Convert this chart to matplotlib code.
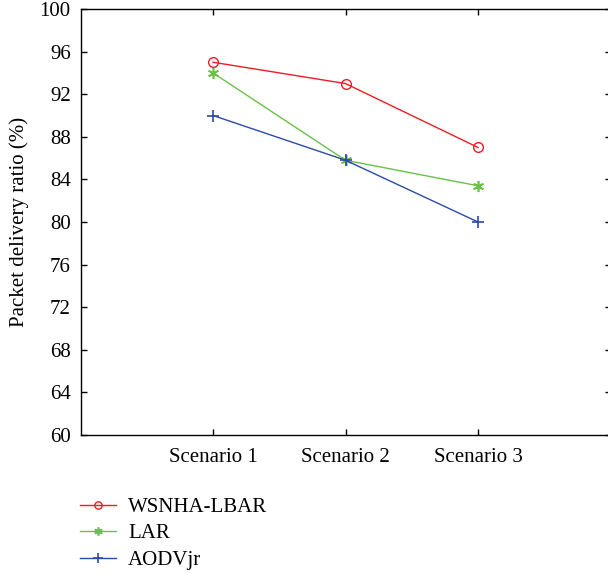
import numpy as np
import matplotlib.pyplot as plt

# data
scenarios = ['Scenario 1', 'Scenario 2', 'Scenario 3']
wsnha_lbar = [95.0, 93.0, 87.0]
lar = [94.0, 85.8, 83.4]
aodvjr = [90.0, 85.8, 80.0]

plt.rcParams['font.family'] = ['Liberation Serif', 'DejaVu Serif']
plt.rcParams['font.size'] = 15

W, H = 608, 573
fig = plt.figure(figsize=(W / 100, H / 100), dpi=100)
# axes box in pixels: left 80.5, right ~610 (slightly clipped), top 9, bottom 435
ax = fig.add_axes([80.5 / W, 1 - 435 / H, 530 / W, 426 / H])

x = np.arange(1, len(scenarios) + 1)
ax.plot(x, wsnha_lbar, color='#ee1c24', lw=1.0, marker='o', ms=7,
        mfc='none', mec='#ee1c24', mew=1.0, label='WSNHA-LBAR')
ax.plot(x, lar, color='#6cc04a', lw=1.0, marker=(6, 2, 0), ms=8,
        mec='#6cc04a', mew=1.2, label='LAR')
ax.plot(x, aodvjr, color='#2b4ba6', lw=1.0, marker='+', ms=9,
        mec='#2b4ba6', mew=1.2, label='AODVjr')

ax.set_xlim(0, 4)
ax.set_ylim(60, 100)
ax.set_xticks(x)
ax.set_xticklabels(scenarios)
ax.set_yticks(np.arange(60, 101, 4))
ax.tick_params(direction='in', top=True, right=True, length=4, width=1.0, pad=9)
ax.tick_params(axis='y', pad=7)
for s in ax.spines.values():
    s.set_linewidth(1.0)
ax.set_ylabel('Packet delivery ratio (%)', labelpad=8)

leg = ax.legend(loc='upper left', bbox_to_anchor=(72 / W, 1 - 489 / H),
                bbox_transform=fig.transFigure, frameon=False,
                handlelength=1.7, handletextpad=0.6, labelspacing=0.33,
                borderaxespad=0, markerscale=0.75, fontsize=15)

fig.savefig('out.png', dpi=100)
